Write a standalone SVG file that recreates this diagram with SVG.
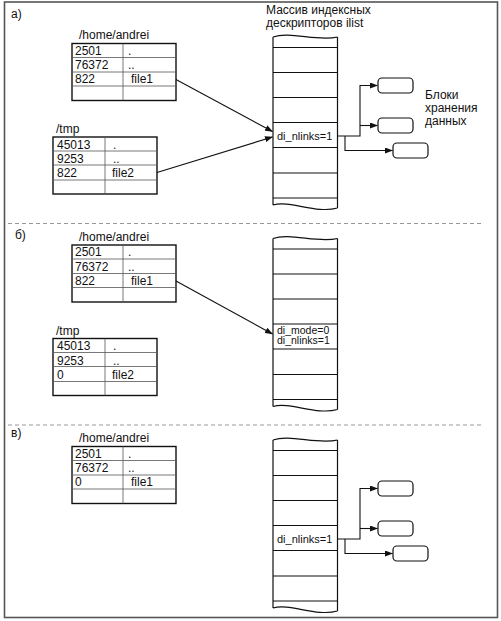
<svg xmlns="http://www.w3.org/2000/svg" width="501" height="621" viewBox="0 0 501 621">
<defs>
<style>
.frame{fill:none;stroke:#555;stroke-width:1.6}
.sep{stroke:#999;stroke-width:1;stroke-dasharray:4 3}
.tbl{fill:#fff;stroke:#111;stroke-width:1.4}
.grid{stroke:#555;stroke-width:0.8}
.col{fill:none;stroke:#111;stroke-width:1.2}
.blk{fill:#fff;stroke:#111;stroke-width:1.2}
.conn{fill:none;stroke:#111;stroke-width:1.1}
text{font-family:"Liberation Sans",Arial,sans-serif;font-size:12px;fill:#111}
.sm{font-size:11px}
.xs{font-size:10.5px}
</style>
<marker id="ah" markerUnits="userSpaceOnUse" markerWidth="8" markerHeight="6" refX="7.5" refY="3" orient="auto">
<path d="M0,0 L8,3 L0,6 Z" fill="#111"/>
</marker>
</defs>
<rect class="frame" x="4.5" y="2" width="493" height="615.5"/>
<line class="sep" x1="8" y1="223.5" x2="481" y2="223.5"/>
<line class="sep" x1="8" y1="425" x2="481" y2="425"/>

<text x="11" y="18">а)</text>
<text x="15" y="238.5">б)</text>
<text x="11" y="437">в)</text>

<!-- Section a -->
<g id="a-home">
<text x="79" y="39">/home/andrei</text>
<rect class="tbl" x="72" y="43.5" width="104" height="57"/>
<path class="grid" d="M72,57.5H176M72,72H176M72,86H176M123,43.5V100.5"/>
<text x="75" y="54.5">2501</text><text x="128" y="54.5">.</text>
<text x="75" y="69">76372</text><text x="128" y="69">..</text>
<text x="75" y="83">822</text><text x="131" y="83">file1</text>
</g>
<g id="a-tmp">
<text x="56" y="133">/tmp</text>
<rect class="tbl" x="53" y="137" width="104" height="57"/>
<path class="grid" d="M53,151H157M53,165H157M53,180H157M105,137V194"/>
<text x="57" y="148.5">45013</text><text x="113" y="148.5">.</text>
<text x="57" y="163">9253</text><text x="113" y="163">..</text>
<text x="57" y="177">822</text><text x="112" y="177">file2</text>
</g>
<g id="a-ilist">
<text x="266" y="13.5">Массив индексных</text>
<text x="266" y="27">дескрипторов ilist</text>
<path class="col" d="M273,37 C290,31 318,42 337.5,37 M273,205 C290,200 316,214 337.5,208 M273,37V205 M337.5,37V208"/>
<path class="grid" style="stroke:#111;stroke-width:1.1" d="M273,47.5H337.5M273,72.5H337.5M273,97.5H337.5M273,122.5H337.5M273,147.5H337.5M273,173H337.5M273,198H337.5"/>
<text class="sm" x="277" y="139.5">di_nlinks=1</text>
</g>
<g id="a-blocks">
<rect class="blk" x="378" y="78" width="35" height="15" rx="4"/>
<rect class="blk" x="378" y="118" width="35" height="15" rx="4"/>
<rect class="blk" x="393" y="143" width="35" height="15" rx="4"/>
<text x="425" y="99">Блоки</text>
<text x="425" y="112">хранения</text>
<text x="425" y="125">данных</text>
</g>

<!-- Section b -->
<g id="b-home" transform="translate(0,201.5)">
<text x="79" y="39">/home/andrei</text>
<rect class="tbl" x="72" y="43.5" width="104" height="57"/>
<path class="grid" d="M72,57.5H176M72,72H176M72,86H176M123,43.5V100.5"/>
<text x="75" y="54.5">2501</text><text x="128" y="54.5">.</text>
<text x="75" y="69">76372</text><text x="128" y="69">..</text>
<text x="75" y="83">822</text><text x="131" y="83">file1</text>
</g>
<g id="b-tmp" transform="translate(0,201.5)">
<text x="56" y="133">/tmp</text>
<rect class="tbl" x="53" y="137" width="104" height="57"/>
<path class="grid" d="M53,151H157M53,165H157M53,180H157M105,137V194"/>
<text x="57" y="148.5">45013</text><text x="113" y="148.5">.</text>
<text x="57" y="163">9253</text><text x="113" y="163">..</text>
<text x="57" y="177">0</text><text x="112" y="177">file2</text>
</g>
<g id="b-ilist" transform="translate(0,201.5)">
<path class="col" d="M273,37 C290,31 318,42 337.5,37 M273,205 C290,200 316,214 337.5,208 M273,37V205 M337.5,37V208"/>
<path class="grid" style="stroke:#111;stroke-width:1.1" d="M273,47.5H337.5M273,72.5H337.5M273,97.5H337.5M273,122.5H337.5M273,147.5H337.5M273,173H337.5M273,198H337.5"/>
<text class="xs" x="277" y="132">di_mode=0</text>
<text class="xs" x="277" y="142.5">di_nlinks=1</text>
</g>

<!-- Section c -->
<g id="c-home" transform="translate(0,403)">
<text x="79" y="39">/home/andrei</text>
<rect class="tbl" x="72" y="43.5" width="104" height="57"/>
<path class="grid" d="M72,57.5H176M72,72H176M72,86H176M123,43.5V100.5"/>
<text x="75" y="54.5">2501</text><text x="128" y="54.5">.</text>
<text x="75" y="69">76372</text><text x="128" y="69">..</text>
<text x="75" y="83">0</text><text x="131" y="83">file1</text>
</g>
<g id="c-ilist" transform="translate(0,403)">
<path class="col" d="M273,37 C290,31 318,42 337.5,37 M273,205 C290,200 316,214 337.5,208 M273,37V205 M337.5,37V208"/>
<path class="grid" style="stroke:#111;stroke-width:1.1" d="M273,47.5H337.5M273,72.5H337.5M273,97.5H337.5M273,122.5H337.5M273,147.5H337.5M273,173H337.5M273,198H337.5"/>
<text class="sm" x="277" y="139.5">di_nlinks=1</text>
</g>
<g id="c-blocks" transform="translate(0,403)">
<rect class="blk" x="378" y="78" width="35" height="15" rx="4"/>
<rect class="blk" x="378" y="118" width="35" height="15" rx="4"/>
<rect class="blk" x="393" y="143" width="35" height="15" rx="4"/>
</g>

<g id="connectors">
<line class="conn" x1="176" y1="79.5" x2="272.5" y2="131.5" marker-end="url(#ah)"/>
<line class="conn" x1="157" y1="172.5" x2="272.5" y2="137" marker-end="url(#ah)"/>
<path class="conn" d="M337.5,136H360V85.5H377.5" marker-end="url(#ah)"/>
<path class="conn" d="M360,125.5H377.5" marker-end="url(#ah)"/>
<path class="conn" d="M345,136V150.5H392.5" marker-end="url(#ah)"/>
<line class="conn" x1="176" y1="281" x2="272.5" y2="334" marker-end="url(#ah)"/>
<path class="conn" d="M337.5,539H360V488.5H377.5" marker-end="url(#ah)"/>
<path class="conn" d="M360,528.5H377.5" marker-end="url(#ah)"/>
<path class="conn" d="M345,539V553.5H392.5" marker-end="url(#ah)"/>
</g>
</svg>
